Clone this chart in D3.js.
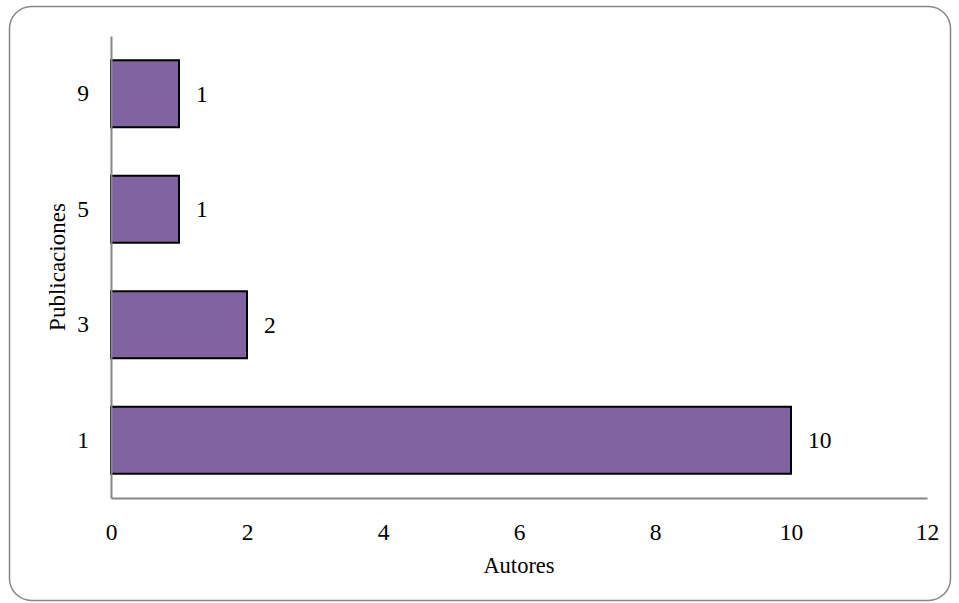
<!DOCTYPE html>
<html>
<head>
<meta charset="utf-8">
<script src="https://cdn.jsdelivr.net/npm/d3@7"></script>
<style>
  html, body { margin: 0; padding: 0; background: #fff; }
  svg { display: block; }
  text { font-family: "Liberation Serif", "DejaVu Serif", serif; fill: #000; }
</style>
</head>
<body>
<script>
// Number of publications per author group
const publicaciones = ["1", "3", "5", "9"];
const autores = [10, 2, 1, 1];
const xTicks = [0, 2, 4, 6, 8, 10, 12];

const W = 959, H = 603;
const margin = { left: 111, right: 32, top: 36, bottom: 105 };
const FONT = "Liberation Serif, DejaVu Serif, serif";
const NUM_SIZE = 23.5;

const svg = d3.select("body").append("svg")
  .attr("width", W).attr("height", H);

// Outer frame
svg.append("rect")
  .attr("x", 9.5).attr("y", 6.5)
  .attr("width", 941).attr("height", 594)
  .attr("rx", 22).attr("ry", 22)
  .attr("fill", "#fff")
  .attr("stroke", "#868686").attr("stroke-width", 1.5);

const x = d3.scaleLinear().domain([0, 12]).range([margin.left, W - margin.right]);
const y = d3.scaleBand().domain(publicaciones)
  .range([H - margin.bottom, margin.top])
  .paddingInner(0.42).paddingOuter(0.21);

const data = publicaciones.map((p, i) => ({ p, v: autores[i] }));

// Bars
svg.append("g").selectAll("rect").data(data).join("rect")
  .attr("x", x(0))
  .attr("y", d => y(d.p))
  .attr("width", d => x(d.v) - x(0))
  .attr("height", y.bandwidth())
  .attr("fill", "#8064A2")
  .attr("stroke", "#000").attr("stroke-width", 2);

// Value labels
svg.append("g").selectAll("text").data(data).join("text")
  .attr("x", d => x(d.v) + 17)
  .attr("y", d => y(d.p) + y.bandwidth() / 2)
  .attr("dy", "0.34em")
  .attr("font-size", NUM_SIZE)
  .text(d => d.v);

// X axis
const xAxis = svg.append("g")
  .attr("transform", `translate(0,${H - margin.bottom})`)
  .call(d3.axisBottom(x).tickValues(xTicks).tickSize(0).tickPadding(25));
xAxis.select(".domain").attr("stroke", "#868686").attr("stroke-width", 2);
xAxis.selectAll("text").attr("font-size", NUM_SIZE).attr("font-family", FONT);

// Y axis
const yAxis = svg.append("g")
  .attr("transform", `translate(${margin.left},0)`)
  .call(d3.axisLeft(y).tickSize(0).tickPadding(22));
yAxis.select(".domain").attr("stroke", "#868686").attr("stroke-width", 2);
yAxis.selectAll("text").attr("font-size", NUM_SIZE).attr("font-family", FONT);

// Axis titles
svg.append("text")
  .attr("x", (x(0) + x(12)) / 2).attr("y", 573)
  .attr("text-anchor", "middle")
  .attr("font-size", 22.5)
  .text("Autores");

svg.append("text")
  .attr("transform", `translate(65,${(margin.top + H - margin.bottom) / 2}) rotate(-90)`)
  .attr("text-anchor", "middle")
  .attr("font-size", 23)
  .text("Publicaciones");
</script>
</body>
</html>
